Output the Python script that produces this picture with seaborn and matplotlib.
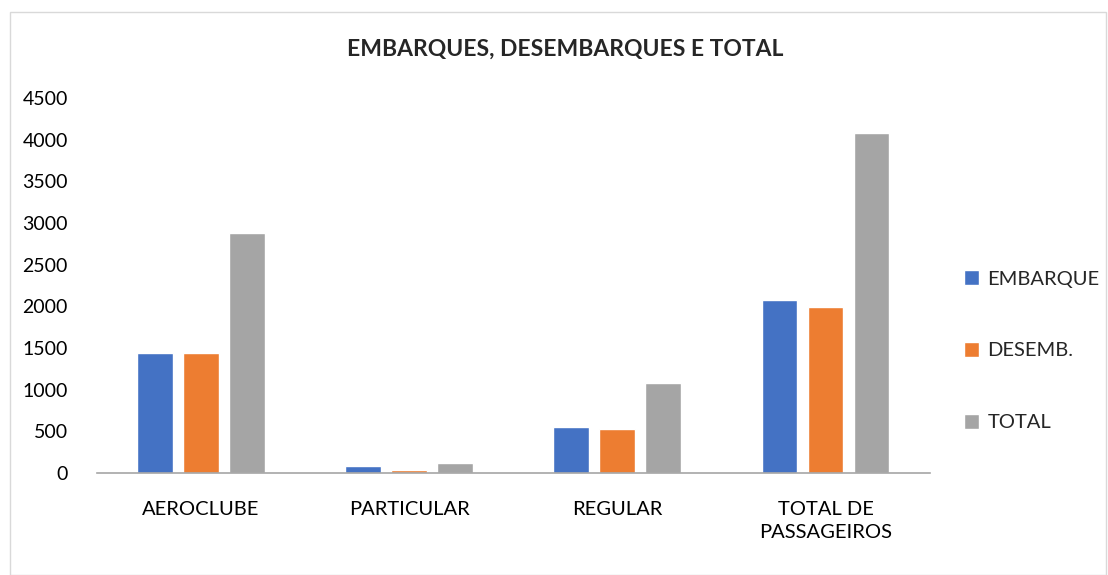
import pandas as pd
import matplotlib.pyplot as plt
import seaborn as sns
from matplotlib.patches import Rectangle

# dados
categorias = ['AEROCLUBE', 'PARTICULAR', 'REGULAR', 'TOTAL DE\nPASSAGEIROS']
series = ['EMBARQUE', 'DESEMB.', 'TOTAL']
embarque = [1440, 88, 552, 2080]
desemb = [1440, 30, 528, 1996]
total = [2880, 116, 1080, 4076]

df = pd.DataFrame({
    'categoria': categorias * 3,
    'serie': [series[0]] * 4 + [series[1]] * 4 + [series[2]] * 4,
    'valor': embarque + desemb + total,
})

sns.set_style('white')
plt.rcParams['font.family'] = ['Lato', 'DejaVu Sans']

cores = ['#4472c4', '#ed7d31', '#a5a5a5']

fig = plt.figure(figsize=(11.08, 5.75), dpi=100)
ax = fig.add_axes([0.0875, 0.1774, 0.7515, 0.6522])

sns.barplot(data=df, x='categoria', y='valor', hue='serie', palette=cores,
            width=0.663, gap=0.22, ax=ax, saturation=1)

ax.set_xlim(-0.5, 3.5)
ax.set_ylim(0, 4500)
ax.set_yticks(range(0, 4501, 500))
ax.set_xlabel('')
ax.set_ylabel('')
for s in ['top', 'right', 'left']:
    ax.spines[s].set_visible(False)
ax.spines['bottom'].set_color('#a6a6a6')
ax.spines['bottom'].set_linewidth(1.2)
ax.tick_params(axis='both', length=0, colors='#000000')
ax.tick_params(axis='x', labelsize=14.5, pad=20)
ax.tick_params(axis='y', labelsize=14, pad=21)
for t in ax.get_xticklabels():
    t.set_linespacing(1.45)

fig.text(0.51, 0.915, 'EMBARQUES, DESEMBARQUES E TOTAL', ha='center', va='center',
         fontsize=16.5, fontweight='bold')

leg = ax.legend(loc='center left', bbox_to_anchor=(1.02, 0.326), frameon=False,
                fontsize=14.5, labelspacing=2.7, handlelength=0.75, handleheight=0.75,
                handletextpad=0.4)

fig.patches.append(Rectangle((10 / 1108, 0), 1096 / 1108, 563 / 575,
                             transform=fig.transFigure, fill=False,
                             edgecolor='#d9d9d9', linewidth=1))

plt.savefig('out.png', dpi=100)
